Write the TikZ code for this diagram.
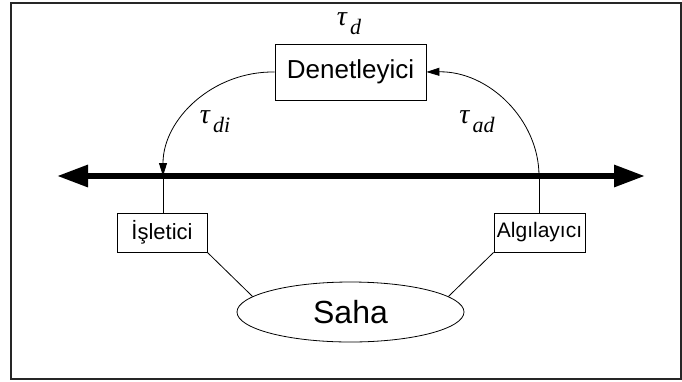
\documentclass[tikz,border=0pt]{standalone}
\usepackage{fontspec}
\setmainfont{Liberation Sans}
\newfontfamily\tfont{Liberation Serif}
\usetikzlibrary{arrows.meta,shapes.geometric}
\newcommand\subtau[1]{τ\hspace{0.12em}\raisebox{-0.32em}{\fontsize{22}{22}\selectfont #1}}
\begin{document}
\begin{tikzpicture}[x=1pt,y=-1pt,
  box/.style={draw,line width=0.8pt,inner sep=0pt,anchor=center},
  thin/.style={line width=0.8pt},
  tip/.style={-{Triangle[length=13pt,width=8pt]}},
  taulbl/.style={font=\tfont\itshape\fontsize{28}{28}\selectfont}]
\useasboundingbox (0,0) rectangle (682,381);
\draw[line width=2pt,black!85] (11,2.5) rectangle (680.5,379);
% boxes
\node[box,minimum width=151pt,minimum height=56pt,font=\fontsize{26}{26}\selectfont] (den) at (350.5,72) {Denetleyici};
\node[box,minimum width=90pt,minimum height=39pt,font=\fontsize{22}{22}\selectfont] (isl) at (162,232.5) {İşletici};
\node[box,minimum width=91pt,minimum height=39pt,font=\fontsize{21}{21}\selectfont] (alg) at (539.5,232.5) {Algılayıcı};
\node[draw,ellipse,thin,minimum width=227pt,minimum height=60pt,inner sep=0pt,font=\fontsize{32}{32}\selectfont] (saha) at (350.5,312) {Saha};
% thick bus
\coordinate (busL) at (57,176);
\coordinate (busR) at (645,176);
\draw[line width=6pt,{Triangle[length=31pt,width=21pt]}-{Triangle[length=31pt,width=21pt]}] (busL) -- (busR);
% junctions on the bus
\coordinate (jl) at (163,176);
\coordinate (jr) at (539,176);
\draw[thin,tip] (den.west) .. controls (213,71) and (163,119) .. (jl);
\draw[thin] (jl) -- (isl.north -| jl);
\draw[thin] (alg.north -| jr) -- (jr);
\draw[thin,tip] (jr) .. controls (539,120) and (489,71) .. (den.east);
% field links
\draw[thin] (isl.south east) -- (saha.171);
\draw[thin] (alg.south west) -- (saha.9);
% labels
\node[taulbl] (td) at (349,24) {\subtau{d}};
\node[taulbl] (tdi) at (215,122) {\subtau{di}};
\node[taulbl] (tad) at (477,122) {\subtau{ad}};
\end{tikzpicture}
\end{document}
